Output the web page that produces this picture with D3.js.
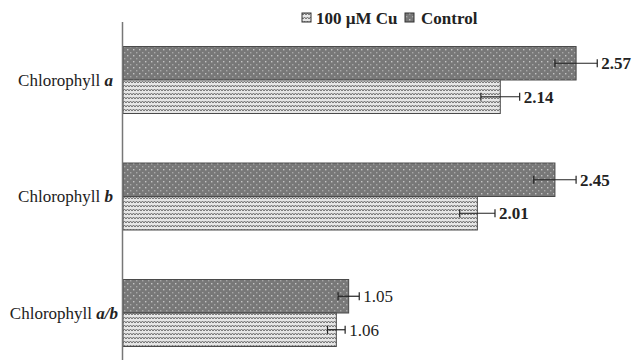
<!DOCTYPE html>
<html><head><meta charset="utf-8">
<script src="https://cdn.jsdelivr.net/npm/d3@7/dist/d3.min.js"></script>
<style>body{margin:0;background:#fff}svg{display:block}</style>
</head><body>
<svg id="c" width="634" height="360"></svg>
<script>
const categories = ["a", "b", "a/b"];
const series = ["Control", "100 µM Cu"];
const controlValues = [2.57, 2.45, 1.28];
const cuValues = [2.14, 2.01, 1.21];
const controlErrors = [0.12, 0.12, 0.06];
const cuErrors = [0.11, 0.10, 0.05];
const controlLabels = ["2.57", "2.45", "1.05"];
const cuLabels = ["2.14", "2.01", "1.06"];

const svg = d3.select("#c");
const defs = svg.append("defs");
const pc = defs.append("pattern").attr("id", "pCtrl").attr("patternUnits", "userSpaceOnUse")
  .attr("width", 6).attr("height", 6);
pc.append("rect").attr("width", 6).attr("height", 6).attr("fill", "#787878");
pc.append("rect").attr("x", 1).attr("y", 1).attr("width", 1.4).attr("height", 1.4).attr("fill", "#c4c4c4");
pc.append("rect").attr("x", 4).attr("y", 4).attr("width", 1.4).attr("height", 1.4).attr("fill", "#a8a8a8");
const pu = defs.append("pattern").attr("id", "pCu").attr("patternUnits", "userSpaceOnUse")
  .attr("width", 6).attr("height", 4);
pu.append("rect").attr("width", 6).attr("height", 4).attr("fill", "#e6e6e6");
pu.append("path").attr("d", "M0,3 L1.5,1 L3,3 L4.5,1 L6,3").attr("fill", "none")
  .attr("stroke", "#6e6e6e").attr("stroke-width", 1);

const x = d3.scaleLinear().domain([0, 3]).range([123, 123 + 3 * 176.3]);
const y = d3.scaleBand().domain(categories).range([21.75, 371.25]).paddingInner(0.425).paddingOuter(0.2125);
const ySub = d3.scaleBand().domain(series).range([0, y.bandwidth()]);

const rows = [];
categories.forEach((c, i) => {
  rows.push({cat: c, s: "Control", v: controlValues[i], e: controlErrors[i], lab: controlLabels[i], i});
  rows.push({cat: c, s: "100 µM Cu", v: cuValues[i], e: cuErrors[i], lab: cuLabels[i], i});
});

const g = svg.append("g");
g.selectAll("rect.bar").data(rows).join("rect")
  .attr("x", x(0))
  .attr("y", d => y(d.cat) + ySub(d.s))
  .attr("width", d => x(d.v) - x(0))
  .attr("height", ySub.bandwidth())
  .attr("fill", d => d.s === "Control" ? "url(#pCtrl)" : "url(#pCu)")
  .attr("stroke", "#4a4a4a").attr("stroke-width", 1);

const eb = g.selectAll("g.eb").data(rows).join("g");
eb.each(function(d) {
  const cy = y(d.cat) + ySub(d.s) + ySub.bandwidth() / 2;
  const sel = d3.select(this);
  const x1 = x(d.v - d.e), x2 = x(d.v + d.e);
  sel.append("line").attr("x1", x1).attr("x2", x2).attr("y1", cy).attr("y2", cy).attr("stroke", "#222").attr("stroke-width", 1.2);
  [x1, x2].forEach(xx => sel.append("line").attr("x1", xx).attr("x2", xx).attr("y1", cy - 4).attr("y2", cy + 4).attr("stroke", "#222").attr("stroke-width", 1.2));
  sel.append("text").attr("x", x2 + 4).attr("y", cy).attr("dy", "0.35em")
    .attr("font-family", "Liberation Serif, serif").attr("font-size", 17)
    .attr("font-weight", d.i < 2 ? "bold" : "normal").attr("fill", "#222").text(d.lab);
});

svg.append("line").attr("x1", 122.5).attr("x2", 122.5).attr("y1", 22).attr("y2", 360).attr("stroke", "#777").attr("stroke-width", 1.5);

categories.forEach(c => {
  const t = svg.append("text").attr("x", c === "a/b" ? 118 : 113).attr("y", y(c) + y.bandwidth() / 2).attr("dy", "0.35em")
    .attr("text-anchor", "end").attr("font-family", "Liberation Serif, serif").attr("font-size", 17).attr("fill", "#222");
  t.append("tspan").text("Chlorophyll ");
  t.append("tspan").attr("font-style", "italic").attr("font-weight", "bold").text(c);
});

const leg = svg.append("g").attr("font-family", "Liberation Serif, serif").attr("font-size", 17).attr("font-weight", "bold").attr("fill", "#222");
leg.append("rect").attr("x", 302).attr("y", 13).attr("width", 9).attr("height", 9).attr("fill", "url(#pCu)").attr("stroke", "#333");
leg.append("text").attr("x", 316).attr("y", 18).attr("dy", "0.35em").text(series[1]);
leg.append("rect").attr("x", 405).attr("y", 13).attr("width", 9).attr("height", 9).attr("fill", "url(#pCtrl)").attr("stroke", "#333");
leg.append("text").attr("x", 421).attr("y", 18).attr("dy", "0.35em").text(series[0]);
</script>
</body></html>
